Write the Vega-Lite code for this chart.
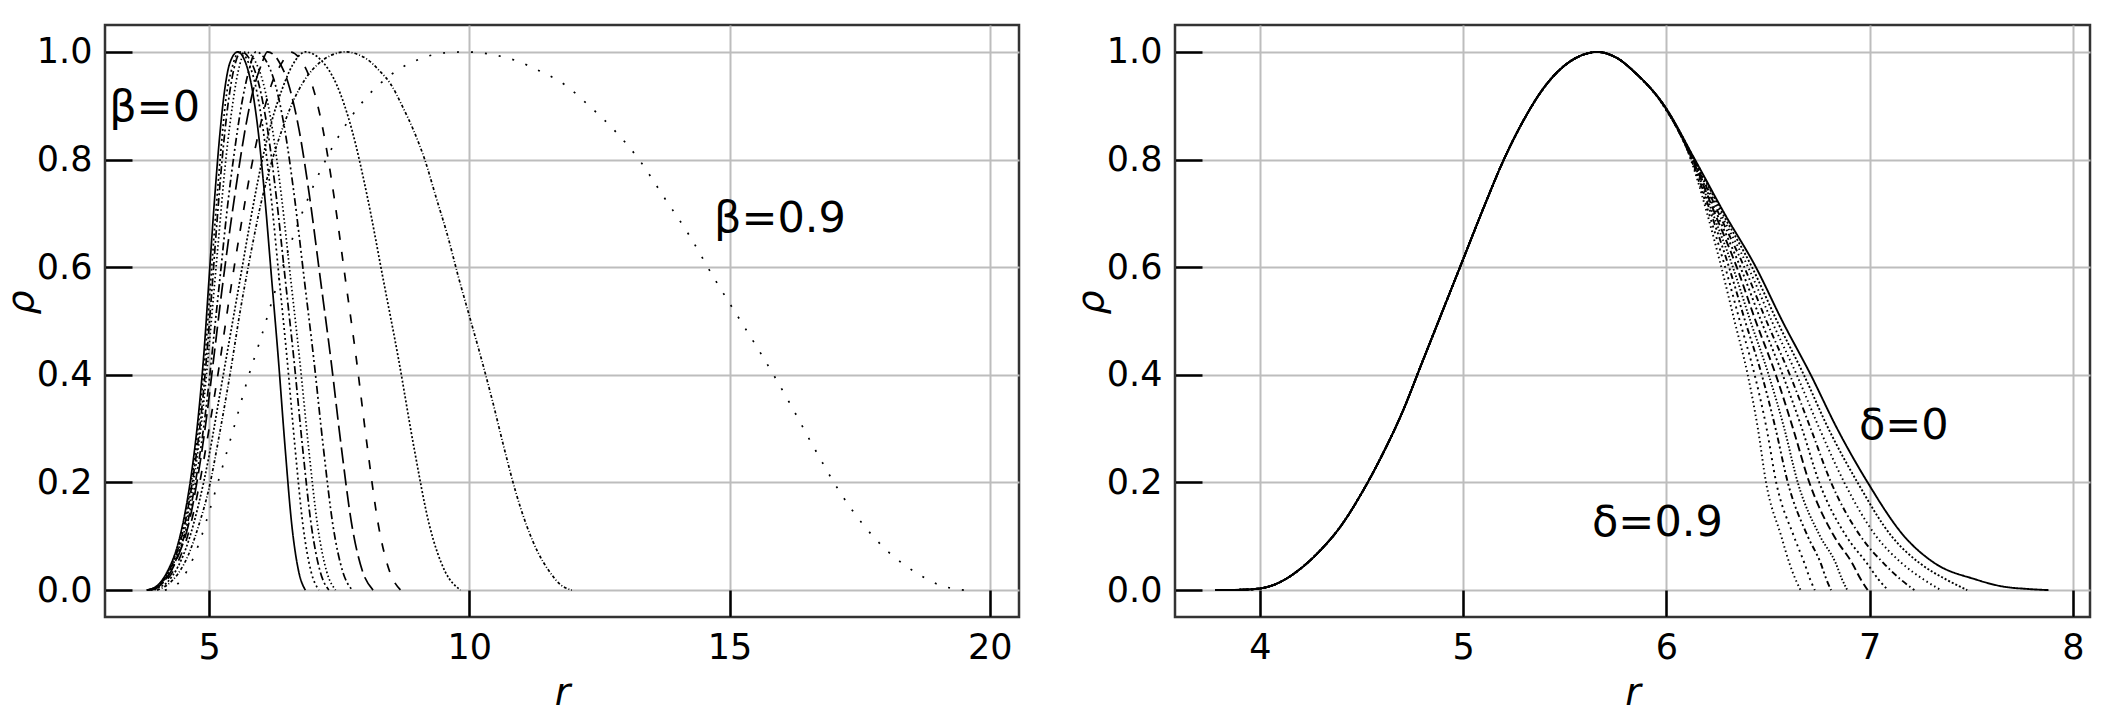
{
"$schema": "https://vega.github.io/schema/vega-lite/v6.json",
"background": "white",
"padding": {"left": 1, "top": 23, "right": 5, "bottom": 0},
"config": {
 "view": {"stroke": "#333333", "strokeWidth": 2.5},
 "font": "DejaVu Sans",
 "axis": {"grid": true, "gridColor": "#bdbdbd", "gridWidth": 2, "domain": false, "tickSize": -27, "tickWidth": 2.5, "tickColor": "#000000", "labelFont": "DejaVu Sans", "labelFontSize": 35, "labelColor": "#000000", "labelPadding": 40, "labelFlush": false, "labelOverlap": false, "titleFont": "DejaVu Sans", "titleFontSize": 38, "titleFontWeight": "normal", "titleFontStyle": "italic", "titleColor": "#000000"},
 "axisX": {"titlePadding": 9},
 "axisY": {"titlePadding": -4, "titleY": 277}
},
"resolve": {"scale": {"x": "independent", "y": "independent", "strokeDash": "independent"}},
"spacing": 50,
"datasets": {
"L": [
{"k":"b0","r":3.8,"p":0},{"k":"b0","r":4,"p":0.008},{"k":"b0","r":4.2,"p":0.035},{"k":"b0","r":4.4,"p":0.085},{"k":"b0","r":4.55,"p":0.15},{"k":"b0","r":4.68,"p":0.23},{"k":"b0","r":4.8,"p":0.33},{"k":"b0","r":4.9,"p":0.44},{"k":"b0","r":5,"p":0.58},{"k":"b0","r":5.1,"p":0.72},{"k":"b0","r":5.2,"p":0.84},{"k":"b0","r":5.3,"p":0.93},{"k":"b0","r":5.4,"p":0.98},{"k":"b0","r":5.55,"p":1},{"k":"b0","r":5.68,"p":0.985},{"k":"b0","r":5.81,"p":0.94},{"k":"b0","r":5.94,"p":0.855},{"k":"b0","r":6.07,"p":0.73},{"k":"b0","r":6.2,"p":0.58},{"k":"b0","r":6.33,"p":0.43},{"k":"b0","r":6.46,"p":0.265},{"k":"b0","r":6.59,"p":0.12},{"k":"b0","r":6.72,"p":0.035},{"k":"b0","r":6.85,"p":0},
{"k":"b1","r":3.8,"p":0},{"k":"b1","r":4,"p":0.007},{"k":"b1","r":4.2,"p":0.032},{"k":"b1","r":4.4,"p":0.08},{"k":"b1","r":4.55,"p":0.14},{"k":"b1","r":4.7,"p":0.23},{"k":"b1","r":4.82,"p":0.33},{"k":"b1","r":4.92,"p":0.43},{"k":"b1","r":5.02,"p":0.56},{"k":"b1","r":5.12,"p":0.69},{"k":"b1","r":5.22,"p":0.81},{"k":"b1","r":5.32,"p":0.91},{"k":"b1","r":5.44,"p":0.97},{"k":"b1","r":5.58,"p":1},{"k":"b1","r":5.733,"p":0.985},{"k":"b1","r":5.886,"p":0.94},{"k":"b1","r":6.039,"p":0.855},{"k":"b1","r":6.192,"p":0.73},{"k":"b1","r":6.345,"p":0.58},{"k":"b1","r":6.498,"p":0.43},{"k":"b1","r":6.651,"p":0.265},{"k":"b1","r":6.804,"p":0.12},{"k":"b1","r":6.957,"p":0.035},{"k":"b1","r":7.11,"p":0},
{"k":"b2","r":3.81,"p":0},{"k":"b2","r":4,"p":0.006},{"k":"b2","r":4.2,"p":0.03},{"k":"b2","r":4.4,"p":0.075},{"k":"b2","r":4.55,"p":0.13},{"k":"b2","r":4.7,"p":0.215},{"k":"b2","r":4.83,"p":0.31},{"k":"b2","r":4.94,"p":0.42},{"k":"b2","r":5.04,"p":0.54},{"k":"b2","r":5.14,"p":0.67},{"k":"b2","r":5.25,"p":0.8},{"k":"b2","r":5.36,"p":0.9},{"k":"b2","r":5.48,"p":0.97},{"k":"b2","r":5.62,"p":1},{"k":"b2","r":5.788,"p":0.985},{"k":"b2","r":5.956,"p":0.94},{"k":"b2","r":6.124,"p":0.855},{"k":"b2","r":6.292,"p":0.73},{"k":"b2","r":6.46,"p":0.58},{"k":"b2","r":6.628,"p":0.43},{"k":"b2","r":6.796,"p":0.265},{"k":"b2","r":6.964,"p":0.12},{"k":"b2","r":7.132,"p":0.035},{"k":"b2","r":7.3,"p":0},
{"k":"b3","r":3.82,"p":0},{"k":"b3","r":4,"p":0.005},{"k":"b3","r":4.2,"p":0.028},{"k":"b3","r":4.4,"p":0.07},{"k":"b3","r":4.55,"p":0.12},{"k":"b3","r":4.7,"p":0.2},{"k":"b3","r":4.84,"p":0.3},{"k":"b3","r":4.96,"p":0.41},{"k":"b3","r":5.07,"p":0.53},{"k":"b3","r":5.18,"p":0.65},{"k":"b3","r":5.3,"p":0.78},{"k":"b3","r":5.42,"p":0.88},{"k":"b3","r":5.55,"p":0.96},{"k":"b3","r":5.7,"p":1},{"k":"b3","r":5.873,"p":0.985},{"k":"b3","r":6.046,"p":0.94},{"k":"b3","r":6.219,"p":0.855},{"k":"b3","r":6.392,"p":0.73},{"k":"b3","r":6.565,"p":0.58},{"k":"b3","r":6.738,"p":0.43},{"k":"b3","r":6.911,"p":0.265},{"k":"b3","r":7.084,"p":0.12},{"k":"b3","r":7.257,"p":0.035},{"k":"b3","r":7.43,"p":0},
{"k":"b4","r":3.83,"p":0},{"k":"b4","r":4,"p":0.005},{"k":"b4","r":4.2,"p":0.025},{"k":"b4","r":4.4,"p":0.065},{"k":"b4","r":4.55,"p":0.11},{"k":"b4","r":4.7,"p":0.18},{"k":"b4","r":4.85,"p":0.27},{"k":"b4","r":4.98,"p":0.37},{"k":"b4","r":5.1,"p":0.48},{"k":"b4","r":5.22,"p":0.59},{"k":"b4","r":5.35,"p":0.71},{"k":"b4","r":5.48,"p":0.81},{"k":"b4","r":5.62,"p":0.9},{"k":"b4","r":5.75,"p":0.96},{"k":"b4","r":5.9,"p":1},{"k":"b4","r":6.085,"p":0.985},{"k":"b4","r":6.27,"p":0.94},{"k":"b4","r":6.455,"p":0.855},{"k":"b4","r":6.64,"p":0.73},{"k":"b4","r":6.825,"p":0.58},{"k":"b4","r":7.01,"p":0.43},{"k":"b4","r":7.195,"p":0.265},{"k":"b4","r":7.38,"p":0.12},{"k":"b4","r":7.565,"p":0.035},{"k":"b4","r":7.75,"p":0},
{"k":"b5","r":3.85,"p":0},{"k":"b5","r":4,"p":0.005},{"k":"b5","r":4.2,"p":0.024},{"k":"b5","r":4.4,"p":0.062},{"k":"b5","r":4.6,"p":0.12},{"k":"b5","r":4.8,"p":0.22},{"k":"b5","r":4.95,"p":0.32},{"k":"b5","r":5.1,"p":0.44},{"k":"b5","r":5.25,"p":0.56},{"k":"b5","r":5.4,"p":0.67},{"k":"b5","r":5.55,"p":0.77},{"k":"b5","r":5.7,"p":0.86},{"k":"b5","r":5.85,"p":0.93},{"k":"b5","r":6,"p":0.975},{"k":"b5","r":6.12,"p":1},{"k":"b5","r":6.323,"p":0.985},{"k":"b5","r":6.526,"p":0.94},{"k":"b5","r":6.729,"p":0.855},{"k":"b5","r":6.932,"p":0.73},{"k":"b5","r":7.135,"p":0.58},{"k":"b5","r":7.338,"p":0.43},{"k":"b5","r":7.541,"p":0.265},{"k":"b5","r":7.744,"p":0.12},{"k":"b5","r":7.947,"p":0.035},{"k":"b5","r":8.15,"p":0},
{"k":"b6","r":3.88,"p":0},{"k":"b6","r":4,"p":0.004},{"k":"b6","r":4.2,"p":0.02},{"k":"b6","r":4.4,"p":0.052},{"k":"b6","r":4.6,"p":0.105},{"k":"b6","r":4.8,"p":0.19},{"k":"b6","r":5,"p":0.3},{"k":"b6","r":5.2,"p":0.42},{"k":"b6","r":5.4,"p":0.55},{"k":"b6","r":5.6,"p":0.67},{"k":"b6","r":5.8,"p":0.78},{"k":"b6","r":6,"p":0.87},{"k":"b6","r":6.2,"p":0.94},{"k":"b6","r":6.4,"p":0.98},{"k":"b6","r":6.55,"p":1},{"k":"b6","r":6.763,"p":0.985},{"k":"b6","r":6.976,"p":0.94},{"k":"b6","r":7.189,"p":0.855},{"k":"b6","r":7.402,"p":0.73},{"k":"b6","r":7.615,"p":0.58},{"k":"b6","r":7.828,"p":0.43},{"k":"b6","r":8.041,"p":0.265},{"k":"b6","r":8.254,"p":0.12},{"k":"b6","r":8.467,"p":0.035},{"k":"b6","r":8.68,"p":0},
{"k":"b7","r":3.95,"p":0},{"k":"b7","r":4,"p":0.003},{"k":"b7","r":4.2,"p":0.015},{"k":"b7","r":4.4,"p":0.043},{"k":"b7","r":4.6,"p":0.09},{"k":"b7","r":4.8,"p":0.16},{"k":"b7","r":5,"p":0.25},{"k":"b7","r":5.2,"p":0.36},{"k":"b7","r":5.4,"p":0.47},{"k":"b7","r":5.6,"p":0.58},{"k":"b7","r":5.8,"p":0.69},{"k":"b7","r":6,"p":0.79},{"k":"b7","r":6.2,"p":0.87},{"k":"b7","r":6.4,"p":0.93},{"k":"b7","r":6.6,"p":0.975},{"k":"b7","r":6.85,"p":1},{"k":"b7","r":7.148,"p":0.985},{"k":"b7","r":7.446,"p":0.94},{"k":"b7","r":7.744,"p":0.855},{"k":"b7","r":8.042,"p":0.73},{"k":"b7","r":8.34,"p":0.58},{"k":"b7","r":8.638,"p":0.43},{"k":"b7","r":8.936,"p":0.265},{"k":"b7","r":9.234,"p":0.12},{"k":"b7","r":9.532,"p":0.035},{"k":"b7","r":9.83,"p":0},
{"k":"b8","r":4,"p":0},{"k":"b8","r":4.2,"p":0.01},{"k":"b8","r":4.4,"p":0.03},{"k":"b8","r":4.6,"p":0.065},{"k":"b8","r":4.8,"p":0.12},{"k":"b8","r":5,"p":0.19},{"k":"b8","r":5.2,"p":0.29},{"k":"b8","r":5.4,"p":0.4},{"k":"b8","r":5.6,"p":0.52},{"k":"b8","r":5.8,"p":0.625},{"k":"b8","r":6,"p":0.72},{"k":"b8","r":6.2,"p":0.795},{"k":"b8","r":6.4,"p":0.855},{"k":"b8","r":6.6,"p":0.905},{"k":"b8","r":6.85,"p":0.95},{"k":"b8","r":7.1,"p":0.978},{"k":"b8","r":7.35,"p":0.994},{"k":"b8","r":7.62,"p":1},{"k":"b8","r":7.838,"p":0.996},{"k":"b8","r":8.055,"p":0.985},{"k":"b8","r":8.273,"p":0.965},{"k":"b8","r":8.49,"p":0.94},{"k":"b8","r":8.708,"p":0.9},{"k":"b8","r":8.925,"p":0.855},{"k":"b8","r":9.143,"p":0.8},{"k":"b8","r":9.36,"p":0.73},{"k":"b8","r":9.578,"p":0.66},{"k":"b8","r":9.795,"p":0.58},{"k":"b8","r":10.013,"p":0.505},{"k":"b8","r":10.23,"p":0.43},{"k":"b8","r":10.448,"p":0.35},{"k":"b8","r":10.665,"p":0.265},{"k":"b8","r":10.883,"p":0.185},{"k":"b8","r":11.1,"p":0.12},{"k":"b8","r":11.318,"p":0.07},{"k":"b8","r":11.535,"p":0.035},{"k":"b8","r":11.753,"p":0.01},{"k":"b8","r":11.97,"p":0},
{"k":"b9","r":4.15,"p":0},{"k":"b9","r":4.4,"p":0.012},{"k":"b9","r":4.6,"p":0.04},{"k":"b9","r":4.8,"p":0.085},{"k":"b9","r":5,"p":0.145},{"k":"b9","r":5.2,"p":0.21},{"k":"b9","r":5.5,"p":0.31},{"k":"b9","r":5.75,"p":0.395},{"k":"b9","r":6,"p":0.47},{"k":"b9","r":6.25,"p":0.55},{"k":"b9","r":6.5,"p":0.625},{"k":"b9","r":7,"p":0.75},{"k":"b9","r":7.5,"p":0.845},{"k":"b9","r":8,"p":0.913},{"k":"b9","r":8.5,"p":0.958},{"k":"b9","r":9,"p":0.985},{"k":"b9","r":9.5,"p":0.998},{"k":"b9","r":9.9,"p":1},{"k":"b9","r":10.38,"p":0.996},{"k":"b9","r":10.86,"p":0.985},{"k":"b9","r":11.34,"p":0.965},{"k":"b9","r":11.82,"p":0.94},{"k":"b9","r":12.3,"p":0.9},{"k":"b9","r":12.78,"p":0.855},{"k":"b9","r":13.26,"p":0.8},{"k":"b9","r":13.74,"p":0.73},{"k":"b9","r":14.22,"p":0.66},{"k":"b9","r":14.7,"p":0.58},{"k":"b9","r":15.18,"p":0.505},{"k":"b9","r":15.66,"p":0.43},{"k":"b9","r":16.14,"p":0.35},{"k":"b9","r":16.62,"p":0.265},{"k":"b9","r":17.1,"p":0.185},{"k":"b9","r":17.58,"p":0.12},{"k":"b9","r":18.06,"p":0.07},{"k":"b9","r":18.54,"p":0.035},{"k":"b9","r":19.02,"p":0.01},{"k":"b9","r":19.5,"p":0}
],
"R": [
{"k":"d0","r":3.78,"p":0},{"k":"d0","r":3.9,"p":0.0005},{"k":"d0","r":4,"p":0.003},{"k":"d0","r":4.1,"p":0.015},{"k":"d0","r":4.2,"p":0.04},{"k":"d0","r":4.3,"p":0.075},{"k":"d0","r":4.4,"p":0.12},{"k":"d0","r":4.5,"p":0.18},{"k":"d0","r":4.6,"p":0.25},{"k":"d0","r":4.7,"p":0.33},{"k":"d0","r":4.8,"p":0.425},{"k":"d0","r":4.9,"p":0.52},{"k":"d0","r":5,"p":0.615},{"k":"d0","r":5.1,"p":0.71},{"k":"d0","r":5.2,"p":0.8},{"k":"d0","r":5.3,"p":0.875},{"k":"d0","r":5.4,"p":0.935},{"k":"d0","r":5.5,"p":0.975},{"k":"d0","r":5.6,"p":0.996},{"k":"d0","r":5.66,"p":1},{"k":"d0","r":5.75,"p":0.99},{"k":"d0","r":5.85,"p":0.96},{"k":"d0","r":5.99,"p":0.9},{"k":"d0","r":6.14,"p":0.8},{"k":"d0","r":6.285,"p":0.7},{"k":"d0","r":6.44,"p":0.6},{"k":"d0","r":6.57,"p":0.5},{"k":"d0","r":6.71,"p":0.4},{"k":"d0","r":6.84,"p":0.3},{"k":"d0","r":6.99,"p":0.2},{"k":"d0","r":7.17,"p":0.1},{"k":"d0","r":7.32,"p":0.05},{"k":"d0","r":7.52,"p":0.02},{"k":"d0","r":7.65,"p":0.007},{"k":"d0","r":7.78,"p":0.002},{"k":"d0","r":7.88,"p":0},
{"k":"d1","r":3.78,"p":0},{"k":"d1","r":3.9,"p":0.0005},{"k":"d1","r":4,"p":0.003},{"k":"d1","r":4.1,"p":0.015},{"k":"d1","r":4.2,"p":0.04},{"k":"d1","r":4.3,"p":0.075},{"k":"d1","r":4.4,"p":0.12},{"k":"d1","r":4.5,"p":0.18},{"k":"d1","r":4.6,"p":0.25},{"k":"d1","r":4.7,"p":0.33},{"k":"d1","r":4.8,"p":0.425},{"k":"d1","r":4.9,"p":0.52},{"k":"d1","r":5,"p":0.615},{"k":"d1","r":5.1,"p":0.71},{"k":"d1","r":5.2,"p":0.8},{"k":"d1","r":5.3,"p":0.875},{"k":"d1","r":5.4,"p":0.935},{"k":"d1","r":5.5,"p":0.975},{"k":"d1","r":5.6,"p":0.996},{"k":"d1","r":5.66,"p":1},{"k":"d1","r":5.75,"p":0.99},{"k":"d1","r":5.85,"p":0.96},{"k":"d1","r":5.99,"p":0.9},{"k":"d1","r":6.138,"p":0.8},{"k":"d1","r":6.276,"p":0.7},{"k":"d1","r":6.421,"p":0.6},{"k":"d1","r":6.544,"p":0.5},{"k":"d1","r":6.676,"p":0.4},{"k":"d1","r":6.797,"p":0.3},{"k":"d1","r":6.94,"p":0.2},{"k":"d1","r":7.108,"p":0.1},{"k":"d1","r":7.246,"p":0.05},{"k":"d1","r":7.375,"p":0.02},{"k":"d1","r":7.48,"p":0},
{"k":"d2","r":3.78,"p":0},{"k":"d2","r":3.9,"p":0.0005},{"k":"d2","r":4,"p":0.003},{"k":"d2","r":4.1,"p":0.015},{"k":"d2","r":4.2,"p":0.04},{"k":"d2","r":4.3,"p":0.075},{"k":"d2","r":4.4,"p":0.12},{"k":"d2","r":4.5,"p":0.18},{"k":"d2","r":4.6,"p":0.25},{"k":"d2","r":4.7,"p":0.33},{"k":"d2","r":4.8,"p":0.425},{"k":"d2","r":4.9,"p":0.52},{"k":"d2","r":5,"p":0.615},{"k":"d2","r":5.1,"p":0.71},{"k":"d2","r":5.2,"p":0.8},{"k":"d2","r":5.3,"p":0.875},{"k":"d2","r":5.4,"p":0.935},{"k":"d2","r":5.5,"p":0.975},{"k":"d2","r":5.6,"p":0.996},{"k":"d2","r":5.66,"p":1},{"k":"d2","r":5.75,"p":0.99},{"k":"d2","r":5.85,"p":0.96},{"k":"d2","r":5.989,"p":0.9},{"k":"d2","r":6.136,"p":0.8},{"k":"d2","r":6.266,"p":0.7},{"k":"d2","r":6.402,"p":0.6},{"k":"d2","r":6.518,"p":0.5},{"k":"d2","r":6.641,"p":0.4},{"k":"d2","r":6.753,"p":0.3},{"k":"d2","r":6.875,"p":0.2},{"k":"d2","r":7.032,"p":0.1},{"k":"d2","r":7.158,"p":0.05},{"k":"d2","r":7.264,"p":0.02},{"k":"d2","r":7.35,"p":0},
{"k":"d3","r":3.78,"p":0},{"k":"d3","r":3.9,"p":0.0005},{"k":"d3","r":4,"p":0.003},{"k":"d3","r":4.1,"p":0.015},{"k":"d3","r":4.2,"p":0.04},{"k":"d3","r":4.3,"p":0.075},{"k":"d3","r":4.4,"p":0.12},{"k":"d3","r":4.5,"p":0.18},{"k":"d3","r":4.6,"p":0.25},{"k":"d3","r":4.7,"p":0.33},{"k":"d3","r":4.8,"p":0.425},{"k":"d3","r":4.9,"p":0.52},{"k":"d3","r":5,"p":0.615},{"k":"d3","r":5.1,"p":0.71},{"k":"d3","r":5.2,"p":0.8},{"k":"d3","r":5.3,"p":0.875},{"k":"d3","r":5.4,"p":0.935},{"k":"d3","r":5.5,"p":0.975},{"k":"d3","r":5.6,"p":0.996},{"k":"d3","r":5.66,"p":1},{"k":"d3","r":5.75,"p":0.99},{"k":"d3","r":5.85,"p":0.96},{"k":"d3","r":5.989,"p":0.9},{"k":"d3","r":6.133,"p":0.8},{"k":"d3","r":6.257,"p":0.7},{"k":"d3","r":6.383,"p":0.6},{"k":"d3","r":6.492,"p":0.5},{"k":"d3","r":6.607,"p":0.4},{"k":"d3","r":6.71,"p":0.3},{"k":"d3","r":6.81,"p":0.2},{"k":"d3","r":6.955,"p":0.1},{"k":"d3","r":7.068,"p":0.05},{"k":"d3","r":7.152,"p":0.02},{"k":"d3","r":7.22,"p":0},
{"k":"d4","r":3.78,"p":0},{"k":"d4","r":3.9,"p":0.0005},{"k":"d4","r":4,"p":0.003},{"k":"d4","r":4.1,"p":0.015},{"k":"d4","r":4.2,"p":0.04},{"k":"d4","r":4.3,"p":0.075},{"k":"d4","r":4.4,"p":0.12},{"k":"d4","r":4.5,"p":0.18},{"k":"d4","r":4.6,"p":0.25},{"k":"d4","r":4.7,"p":0.33},{"k":"d4","r":4.8,"p":0.425},{"k":"d4","r":4.9,"p":0.52},{"k":"d4","r":5,"p":0.615},{"k":"d4","r":5.1,"p":0.71},{"k":"d4","r":5.2,"p":0.8},{"k":"d4","r":5.3,"p":0.875},{"k":"d4","r":5.4,"p":0.935},{"k":"d4","r":5.5,"p":0.975},{"k":"d4","r":5.6,"p":0.996},{"k":"d4","r":5.66,"p":1},{"k":"d4","r":5.75,"p":0.99},{"k":"d4","r":5.85,"p":0.96},{"k":"d4","r":5.988,"p":0.9},{"k":"d4","r":6.131,"p":0.8},{"k":"d4","r":6.247,"p":0.7},{"k":"d4","r":6.364,"p":0.6},{"k":"d4","r":6.466,"p":0.5},{"k":"d4","r":6.572,"p":0.4},{"k":"d4","r":6.667,"p":0.3},{"k":"d4","r":6.752,"p":0.2},{"k":"d4","r":6.885,"p":0.1},{"k":"d4","r":6.986,"p":0.05},{"k":"d4","r":7.043,"p":0.02},{"k":"d4","r":7.09,"p":0},
{"k":"d5","r":3.78,"p":0},{"k":"d5","r":3.9,"p":0.0005},{"k":"d5","r":4,"p":0.003},{"k":"d5","r":4.1,"p":0.015},{"k":"d5","r":4.2,"p":0.04},{"k":"d5","r":4.3,"p":0.075},{"k":"d5","r":4.4,"p":0.12},{"k":"d5","r":4.5,"p":0.18},{"k":"d5","r":4.6,"p":0.25},{"k":"d5","r":4.7,"p":0.33},{"k":"d5","r":4.8,"p":0.425},{"k":"d5","r":4.9,"p":0.52},{"k":"d5","r":5,"p":0.615},{"k":"d5","r":5.1,"p":0.71},{"k":"d5","r":5.2,"p":0.8},{"k":"d5","r":5.3,"p":0.875},{"k":"d5","r":5.4,"p":0.935},{"k":"d5","r":5.5,"p":0.975},{"k":"d5","r":5.6,"p":0.996},{"k":"d5","r":5.66,"p":1},{"k":"d5","r":5.75,"p":0.99},{"k":"d5","r":5.85,"p":0.96},{"k":"d5","r":5.988,"p":0.9},{"k":"d5","r":6.129,"p":0.8},{"k":"d5","r":6.238,"p":0.7},{"k":"d5","r":6.346,"p":0.6},{"k":"d5","r":6.439,"p":0.5},{"k":"d5","r":6.538,"p":0.4},{"k":"d5","r":6.623,"p":0.3},{"k":"d5","r":6.703,"p":0.2},{"k":"d5","r":6.825,"p":0.1},{"k":"d5","r":6.914,"p":0.05},{"k":"d5","r":6.956,"p":0.02},{"k":"d5","r":6.99,"p":0},
{"k":"d6","r":3.78,"p":0},{"k":"d6","r":3.9,"p":0.0005},{"k":"d6","r":4,"p":0.003},{"k":"d6","r":4.1,"p":0.015},{"k":"d6","r":4.2,"p":0.04},{"k":"d6","r":4.3,"p":0.075},{"k":"d6","r":4.4,"p":0.12},{"k":"d6","r":4.5,"p":0.18},{"k":"d6","r":4.6,"p":0.25},{"k":"d6","r":4.7,"p":0.33},{"k":"d6","r":4.8,"p":0.425},{"k":"d6","r":4.9,"p":0.52},{"k":"d6","r":5,"p":0.615},{"k":"d6","r":5.1,"p":0.71},{"k":"d6","r":5.2,"p":0.8},{"k":"d6","r":5.3,"p":0.875},{"k":"d6","r":5.4,"p":0.935},{"k":"d6","r":5.5,"p":0.975},{"k":"d6","r":5.6,"p":0.996},{"k":"d6","r":5.66,"p":1},{"k":"d6","r":5.75,"p":0.99},{"k":"d6","r":5.85,"p":0.96},{"k":"d6","r":5.987,"p":0.9},{"k":"d6","r":6.127,"p":0.8},{"k":"d6","r":6.228,"p":0.7},{"k":"d6","r":6.327,"p":0.6},{"k":"d6","r":6.413,"p":0.5},{"k":"d6","r":6.503,"p":0.4},{"k":"d6","r":6.58,"p":0.3},{"k":"d6","r":6.646,"p":0.2},{"k":"d6","r":6.756,"p":0.1},{"k":"d6","r":6.833,"p":0.05},{"k":"d6","r":6.864,"p":0.02},{"k":"d6","r":6.89,"p":0},
{"k":"d7","r":3.78,"p":0},{"k":"d7","r":3.9,"p":0.0005},{"k":"d7","r":4,"p":0.003},{"k":"d7","r":4.1,"p":0.015},{"k":"d7","r":4.2,"p":0.04},{"k":"d7","r":4.3,"p":0.075},{"k":"d7","r":4.4,"p":0.12},{"k":"d7","r":4.5,"p":0.18},{"k":"d7","r":4.6,"p":0.25},{"k":"d7","r":4.7,"p":0.33},{"k":"d7","r":4.8,"p":0.425},{"k":"d7","r":4.9,"p":0.52},{"k":"d7","r":5,"p":0.615},{"k":"d7","r":5.1,"p":0.71},{"k":"d7","r":5.2,"p":0.8},{"k":"d7","r":5.3,"p":0.875},{"k":"d7","r":5.4,"p":0.935},{"k":"d7","r":5.5,"p":0.975},{"k":"d7","r":5.6,"p":0.996},{"k":"d7","r":5.66,"p":1},{"k":"d7","r":5.75,"p":0.99},{"k":"d7","r":5.85,"p":0.96},{"k":"d7","r":5.987,"p":0.9},{"k":"d7","r":6.124,"p":0.8},{"k":"d7","r":6.219,"p":0.7},{"k":"d7","r":6.308,"p":0.6},{"k":"d7","r":6.387,"p":0.5},{"k":"d7","r":6.469,"p":0.4},{"k":"d7","r":6.537,"p":0.3},{"k":"d7","r":6.597,"p":0.2},{"k":"d7","r":6.695,"p":0.1},{"k":"d7","r":6.759,"p":0.05},{"k":"d7","r":6.787,"p":0.02},{"k":"d7","r":6.81,"p":0},
{"k":"d8","r":3.78,"p":0},{"k":"d8","r":3.9,"p":0.0005},{"k":"d8","r":4,"p":0.003},{"k":"d8","r":4.1,"p":0.015},{"k":"d8","r":4.2,"p":0.04},{"k":"d8","r":4.3,"p":0.075},{"k":"d8","r":4.4,"p":0.12},{"k":"d8","r":4.5,"p":0.18},{"k":"d8","r":4.6,"p":0.25},{"k":"d8","r":4.7,"p":0.33},{"k":"d8","r":4.8,"p":0.425},{"k":"d8","r":4.9,"p":0.52},{"k":"d8","r":5,"p":0.615},{"k":"d8","r":5.1,"p":0.71},{"k":"d8","r":5.2,"p":0.8},{"k":"d8","r":5.3,"p":0.875},{"k":"d8","r":5.4,"p":0.935},{"k":"d8","r":5.5,"p":0.975},{"k":"d8","r":5.6,"p":0.996},{"k":"d8","r":5.66,"p":1},{"k":"d8","r":5.75,"p":0.99},{"k":"d8","r":5.85,"p":0.96},{"k":"d8","r":5.986,"p":0.9},{"k":"d8","r":6.122,"p":0.8},{"k":"d8","r":6.209,"p":0.7},{"k":"d8","r":6.289,"p":0.6},{"k":"d8","r":6.361,"p":0.5},{"k":"d8","r":6.434,"p":0.4},{"k":"d8","r":6.493,"p":0.3},{"k":"d8","r":6.54,"p":0.2},{"k":"d8","r":6.627,"p":0.1},{"k":"d8","r":6.679,"p":0.05},{"k":"d8","r":6.707,"p":0.02},{"k":"d8","r":6.73,"p":0},
{"k":"d9","r":3.78,"p":0},{"k":"d9","r":3.9,"p":0.0005},{"k":"d9","r":4,"p":0.003},{"k":"d9","r":4.1,"p":0.015},{"k":"d9","r":4.2,"p":0.04},{"k":"d9","r":4.3,"p":0.075},{"k":"d9","r":4.4,"p":0.12},{"k":"d9","r":4.5,"p":0.18},{"k":"d9","r":4.6,"p":0.25},{"k":"d9","r":4.7,"p":0.33},{"k":"d9","r":4.8,"p":0.425},{"k":"d9","r":4.9,"p":0.52},{"k":"d9","r":5,"p":0.615},{"k":"d9","r":5.1,"p":0.71},{"k":"d9","r":5.2,"p":0.8},{"k":"d9","r":5.3,"p":0.875},{"k":"d9","r":5.4,"p":0.935},{"k":"d9","r":5.5,"p":0.975},{"k":"d9","r":5.6,"p":0.996},{"k":"d9","r":5.66,"p":1},{"k":"d9","r":5.75,"p":0.99},{"k":"d9","r":5.85,"p":0.96},{"k":"d9","r":5.985,"p":0.9},{"k":"d9","r":6.12,"p":0.8},{"k":"d9","r":6.2,"p":0.7},{"k":"d9","r":6.27,"p":0.6},{"k":"d9","r":6.335,"p":0.5},{"k":"d9","r":6.4,"p":0.4},{"k":"d9","r":6.45,"p":0.3},{"k":"d9","r":6.49,"p":0.2},{"k":"d9","r":6.565,"p":0.1},{"k":"d9","r":6.605,"p":0.05},{"k":"d9","r":6.635,"p":0.02},{"k":"d9","r":6.66,"p":0}
],
"Lt": [{"r":3.08,"p":0.872,"t":"β=0"},{"r":14.7,"p":0.665,"t":"β=0.9"}],
"Rt": [{"r":6.947,"p":0.281,"t":"δ=0"},{"r":5.634,"p":0.1,"t":"δ=0.9"}]
},
"hconcat": [
{"width": 914, "height": 592, "layer": [
 {"data": {"name": "L"}, "mark": {"type": "line", "interpolate": "monotone", "strokeWidth": 1.7, "color": "#000000"},
  "encoding": {
   "x": {"field": "r", "type": "quantitative", "scale": {"domain": [3.0, 20.56], "nice": false, "zero": false}, "axis": {"values": [5, 10, 15, 20], "format": "d", "title": "r"}},
   "y": {"field": "p", "type": "quantitative", "scale": {"domain": [-0.05, 1.05], "nice": false, "zero": false}, "axis": {"values": [0, 0.2, 0.4, 0.6, 0.8, 1.0], "format": ".1f", "title": "ρ"}},
   "strokeDash": {"field": "k", "type": "nominal", "legend": null, "scale": {"domain": ["b0","b1","b2","b3","b4","b5","b6","b7","b8","b9"], "range": [[1,0],[2,3],[8,3,2,3],[1.5,2.5],[8,3,2,3,2,3],[16,6],[9,12],[2,2],[3,2,1,2],[2,12]]}}
  }},
 {"data": {"name": "Lt"}, "mark": {"type": "text", "align": "left", "baseline": "alphabetic", "fontSize": 43, "font": "DejaVu Sans", "color": "#000000"},
  "encoding": {
   "x": {"field": "r", "type": "quantitative", "axis": {"title": "r"}},
   "y": {"field": "p", "type": "quantitative", "axis": {"title": "ρ"}},
   "text": {"field": "t", "type": "nominal"}
  }}
]},
{"width": 915, "height": 592, "layer": [
 {"data": {"name": "R"}, "mark": {"type": "line", "interpolate": "monotone", "strokeWidth": 1.9, "color": "#000000"},
  "encoding": {
   "x": {"field": "r", "type": "quantitative", "scale": {"domain": [3.582, 8.084], "nice": false, "zero": false}, "axis": {"values": [4, 5, 6, 7, 8], "format": "d", "title": "r"}},
   "y": {"field": "p", "type": "quantitative", "scale": {"domain": [-0.05, 1.05], "nice": false, "zero": false}, "axis": {"values": [0, 0.2, 0.4, 0.6, 0.8, 1.0], "format": ".1f", "title": "ρ"}},
   "strokeDash": {"field": "k", "type": "nominal", "legend": null, "scale": {"domain": ["d0","d1","d2","d3","d4","d5","d6","d7","d8","d9"], "range": [[1,0],[2,2],[1.5,3],[6,3,1.5,3],[2,3],[8,4],[1.5,2],[6,3,2,3,2,3],[2,4],[1.5,3]]}}
  }},
 {"data": {"name": "Rt"}, "mark": {"type": "text", "align": "left", "baseline": "alphabetic", "fontSize": 43, "font": "DejaVu Sans", "color": "#000000"},
  "encoding": {
   "x": {"field": "r", "type": "quantitative", "axis": {"title": "r"}},
   "y": {"field": "p", "type": "quantitative", "axis": {"title": "ρ"}},
   "text": {"field": "t", "type": "nominal"}
  }}
]}
]
}
